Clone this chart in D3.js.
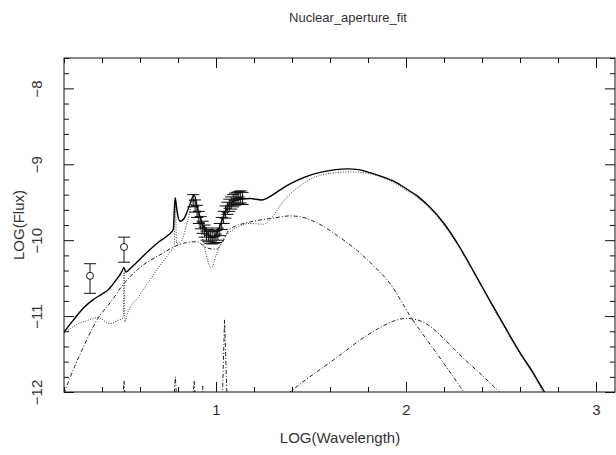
<!DOCTYPE html>
<html><head><meta charset="utf-8">
<script src="https://cdn.jsdelivr.net/npm/d3@7"></script>
<style>
body{margin:0;background:#fff;}
svg text{font-family:"Liberation Sans","DejaVu Sans",sans-serif;fill:#333;}
</style></head>
<body><svg id="c" width="616" height="455"></svg>
<script>
// ---- data (log wavelength, log flux) ----
const title = "Nuclear_aperture_fit";
const xLabel = "LOG(Wavelength)";
const yLabel = "LOG(Flux)";
const xMajorTicks = [1, 2, 3];
const yMajorTicks = [-12, -11, -10, -9, -8];
const xTickLabels = ["1", "2", "3"];
const yTickLabels = ["\u221212", "\u221211", "\u221210", "\u22129", "\u22128"];

const totalModel = [[0.2,-11.21],[0.25,-11.05],[0.3,-10.9],[0.35,-10.79],[0.4,-10.71],[0.43,-10.66],[0.47,-10.54],[0.505,-10.41],[0.515,-10.36],[0.525,-10.42],[0.55,-10.37],[0.6,-10.25],[0.65,-10.13],[0.7,-10.02],[0.75,-9.93],[0.775,-9.86],[0.785,-9.44],[0.795,-9.62],[0.81,-9.75],[0.83,-9.72],[0.86,-9.55],[0.885,-9.40],[0.9,-9.55],[0.93,-9.8],[0.96,-9.93],[0.98,-9.96],[1.0,-9.93],[1.03,-9.75],[1.06,-9.56],[1.09,-9.49],[1.13,-9.46],[1.18,-9.45],[1.24,-9.47],[1.3,-9.4],[1.36,-9.3],[1.43,-9.21],[1.5,-9.14],[1.56,-9.1],[1.63,-9.07],[1.69,-9.06],[1.75,-9.07],[1.81,-9.11],[1.87,-9.16],[1.94,-9.23],[2.0,-9.32],[2.06,-9.42],[2.12,-9.55],[2.2,-9.78],[2.28,-10.08],[2.36,-10.43],[2.44,-10.79],[2.52,-11.14],[2.6,-11.48],[2.67,-11.75],[2.74,-12.05]];

const starburst = [[0.2,-11.23],[0.26,-11.12],[0.32,-11.06],[0.38,-11.02],[0.44,-11.1],[0.48,-11.06],[0.512,-11.02],[0.516,-10.42],[0.521,-11.08],[0.53,-11.0],[0.6,-10.72],[0.68,-10.42],[0.76,-10.15],[0.78,-10.08],[0.786,-9.48],[0.793,-10.05],[0.82,-10.0],[0.85,-9.75],[0.885,-9.46],[0.91,-9.75],[0.94,-10.1],[0.975,-10.37],[1.0,-10.2],[1.03,-10.02],[1.07,-9.9],[1.12,-9.82],[1.18,-9.78],[1.25,-9.79],[1.3,-9.68],[1.35,-9.5],[1.4,-9.37],[1.45,-9.27],[1.51,-9.18],[1.6,-9.12],[1.7,-9.1],[1.8,-9.12],[1.87,-9.17],[1.94,-9.25],[2.0,-9.34],[2.06,-9.44],[2.12,-9.57],[2.2,-9.8],[2.28,-10.1],[2.36,-10.45],[2.44,-10.81],[2.52,-11.16],[2.6,-11.5],[2.67,-11.77],[2.73,-12.05]];

const torus = [[0.2,-12.02],[0.25,-11.7],[0.3,-11.42],[0.374,-11.05],[0.45,-10.8],[0.51,-10.59],[0.6,-10.36],[0.7,-10.2],[0.83,-10.04],[0.9,-10.02],[0.95,-10.1],[1.0,-10.12],[1.04,-10.0],[1.07,-9.86],[1.18,-9.76],[1.3,-9.71],[1.39,-9.68],[1.44,-9.69],[1.53,-9.77],[1.65,-9.96],[1.74,-10.13],[1.85,-10.39],[1.9,-10.52],[2.03,-11.03],[2.17,-11.52],[2.31,-12.02]];

const coolDust = [[1.38,-12.02],[1.45,-11.88],[1.55,-11.7],[1.65,-11.52],[1.75,-11.33],[1.85,-11.17],[1.93,-11.07],[2.0,-11.03],[2.06,-11.05],[2.13,-11.14],[2.2,-11.3],[2.3,-11.55],[2.4,-11.78],[2.5,-12.02]];

const emissionLines = [[0.2,-12.4],[0.5,-12.4],[0.516,-11.85],[0.53,-12.4],[0.77,-12.4],[0.786,-11.8],[0.80,-12.4],[0.87,-12.4],[0.885,-11.85],[0.90,-12.4],[0.92,-12.4],[0.93,-11.92],[0.94,-12.4],[1.03,-12.4],[1.045,-11.05],[1.062,-12.4],[1.2,-12.4]];

// photometry points: x, y, upper, lower
const photX = [0.337, 0.516];
const photY = [-10.47, -10.09];
const photHi = [-10.31, -9.96];
const photLo = [-10.70, -10.29];

// spectrum points
const specX = [0.880,0.890,0.900,0.910,0.920,0.930,0.940,0.950,0.960,0.970,0.980,0.990,1.000,1.010,1.020,1.030,1.040,1.050,1.060,1.070,1.080,1.090,1.100,1.110,1.120,1.130,1.140];
const specY = [-9.48,-9.55,-9.62,-9.70,-9.77,-9.83,-9.88,-9.92,-9.94,-9.96,-9.97,-9.96,-9.95,-9.92,-9.86,-9.78,-9.70,-9.63,-9.58,-9.54,-9.51,-9.48,-9.46,-9.45,-9.44,-9.43,-9.45];
const specErr = [0.08,0.08,0.08,0.08,0.08,0.08,0.08,0.08,0.08,0.08,0.08,0.08,0.08,0.08,0.08,0.08,0.08,0.08,0.08,0.08,0.08,0.08,0.08,0.08,0.08,0.08,0.08];

// ---- drawing ----
const svg = d3.select("#c");
const L = 64, R = 615, T = 58, B = 392;
const x = d3.scaleLinear().domain([0.2, 3.1]).range([L, R]);
const y = d3.scaleLinear().domain([-12, -7.6]).range([B, T]);

svg.append("defs").append("clipPath").attr("id","clip")
  .append("rect").attr("x",L).attr("y",T).attr("width",R-L).attr("height",B-T);

const minorX = d3.range(0.2, 3.11, 0.2).map(v=>+v.toFixed(2)).filter(v=>!xMajorTicks.includes(v));
const minorY = d3.range(-12, -7.59, 0.2).map(v=>+v.toFixed(2)).filter(v=>!yMajorTicks.includes(v));

function styleAxis(g){ g.select(".domain").remove(); g.selectAll("line").attr("stroke","#111").attr("stroke-width",1); }

// bottom
svg.append("g").attr("transform",`translate(0,${B})`)
  .call(d3.axisBottom(x).tickValues(xMajorTicks).tickSize(-10).tickPadding(12).tickFormat((d,i)=>xTickLabels[i]))
  .call(styleAxis).call(g=>g.selectAll("text").attr("font-size",15).attr("fill","#333"));
svg.append("g").attr("transform",`translate(0,${B})`)
  .call(d3.axisBottom(x).tickValues(minorX).tickSize(-5).tickFormat(""))
  .call(styleAxis);
// top
svg.append("g").attr("transform",`translate(0,${T})`)
  .call(d3.axisTop(x).tickValues(xMajorTicks).tickSize(-10).tickFormat("")).call(styleAxis);
svg.append("g").attr("transform",`translate(0,${T})`)
  .call(d3.axisTop(x).tickValues(minorX).tickSize(-5).tickFormat("")).call(styleAxis);
// left
const leftAx = svg.append("g").attr("transform",`translate(${L},0)`)
  .call(d3.axisLeft(y).tickValues(yMajorTicks).tickSize(-10).tickFormat((d,i)=>yTickLabels[i]))
  .call(styleAxis);
leftAx.selectAll("text").attr("x",null).attr("dy",null)
  .attr("transform","translate(-26,0) rotate(-90)").attr("text-anchor","middle")
  .attr("dominant-baseline","middle").attr("font-size",15).attr("fill","#333");
svg.append("g").attr("transform",`translate(${L},0)`)
  .call(d3.axisLeft(y).tickValues(minorY).tickSize(-5).tickFormat("")).call(styleAxis);
// right
svg.append("g").attr("transform",`translate(${R},0)`)
  .call(d3.axisRight(y).tickValues(yMajorTicks).tickSize(-10).tickFormat("")).call(styleAxis);
svg.append("g").attr("transform",`translate(${R},0)`)
  .call(d3.axisRight(y).tickValues(minorY).tickSize(-5).tickFormat("")).call(styleAxis);

// frame
svg.append("rect").attr("x",L).attr("y",T).attr("width",R-L).attr("height",B-T)
  .attr("fill","none").attr("stroke","#111").attr("stroke-width",1);

// titles
svg.append("text").attr("x",348).attr("y",22).attr("text-anchor","middle").attr("font-size",13).text(title);
svg.append("text").attr("x",340).attr("y",443).attr("text-anchor","middle").attr("font-size",15).text(xLabel);
svg.append("text").attr("transform","translate(24,225) rotate(-90)").attr("text-anchor","middle").attr("font-size",15).text(yLabel);

// curves
const line = d3.line().x(d=>x(d[0])).y(d=>y(d[1]));
const smooth = d3.line().x(d=>x(d[0])).y(d=>y(d[1])).curve(d3.curveMonotoneX);
const plot = svg.append("g").attr("clip-path","url(#clip)");
plot.append("path").datum(emissionLines).attr("d",line).attr("fill","none").attr("stroke","#222").attr("stroke-width",1).attr("stroke-dasharray","4,2,1,2");
plot.append("path").datum(coolDust).attr("d",smooth).attr("fill","none").attr("stroke","#222").attr("stroke-width",1).attr("stroke-dasharray","4,2,1,2");
plot.append("path").datum(torus).attr("d",smooth).attr("fill","none").attr("stroke","#222").attr("stroke-width",1).attr("stroke-dasharray","4,2,1,2");
plot.append("path").datum(starburst).attr("d",smooth).attr("fill","none").attr("stroke","#444").attr("stroke-width",1).attr("stroke-dasharray","1,1.5");
plot.append("path").datum(totalModel).attr("d",smooth).attr("fill","none").attr("stroke","#000").attr("stroke-width",1.4);

// photometry
const ph = svg.append("g").attr("stroke","#111").attr("fill","none").attr("stroke-width",1);
photX.forEach((px,i)=>{
  ph.append("line").attr("x1",x(px)).attr("x2",x(px)).attr("y1",y(photHi[i])).attr("y2",y(photLo[i]));
  ph.append("line").attr("x1",x(px)-6).attr("x2",x(px)+6).attr("y1",y(photHi[i])).attr("y2",y(photHi[i]));
  ph.append("line").attr("x1",x(px)-6).attr("x2",x(px)+6).attr("y1",y(photLo[i])).attr("y2",y(photLo[i]));
  ph.append("circle").attr("cx",x(px)).attr("cy",y(photY[i])).attr("r",3.5).attr("fill","#fff");
});
// spectrum
const sp = svg.append("g").attr("stroke","#111").attr("fill","none").attr("stroke-width",1);
specX.forEach((sx,i)=>{
  const cx=x(sx), cy=y(specY[i]), yh=y(specY[i]+specErr[i]), yl=y(specY[i]-specErr[i]);
  sp.append("line").attr("x1",cx).attr("x2",cx).attr("y1",yh).attr("y2",yl);
  sp.append("line").attr("x1",cx-6).attr("x2",cx+6).attr("y1",yh).attr("y2",yh);
  sp.append("line").attr("x1",cx-6).attr("x2",cx+6).attr("y1",yl).attr("y2",yl);
  sp.append("line").attr("x1",cx-4).attr("x2",cx+4).attr("y1",cy).attr("y2",cy);
});
</script></body></html>
